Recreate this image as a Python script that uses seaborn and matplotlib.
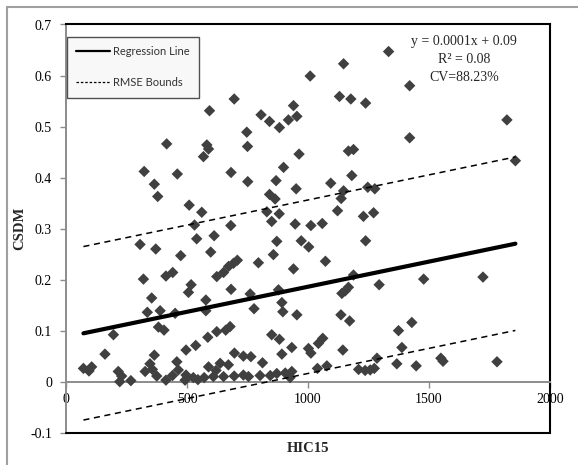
import numpy as np
import pandas as pd
import matplotlib
matplotlib.use("Agg")
import matplotlib.pyplot as plt
from matplotlib.lines import Line2D
import seaborn as sns

# Head impact criterion (HIC15) for each case
hic15 = [
    695, 593, 940, 806, 841, 882, 919, 954, 747, 416, 582, 589, 568, 750, 963,
    323, 460, 682, 899, 365, 751, 868, 951, 379, 841, 864, 509, 561, 830, 881,
    850, 681, 531, 947, 1012, 540, 612, 306, 371, 871, 972, 1003, 474, 598, 857,
    1333, 1147, 1009, 1420, 1130, 1177, 1238, 1822, 1420, 1167, 1188, 1857, 1181,
    1094, 1147, 1137, 1247, 1276, 1122, 1229, 1271, 1059, 1238, 1072,
    623, 651, 672, 692, 708, 795, 940, 682, 320, 413, 441, 517, 506, 354, 578,
    578, 336, 389, 451, 382, 405, 196, 660, 623, 678, 761, 878, 892, 777, 896,
    954, 1188, 1167, 1154, 1140, 1294, 1136, 1172, 1478, 1723, 1429, 1374,
    586, 536, 496, 161, 696, 365, 72, 106, 95, 216, 230, 222, 268, 327, 347,
    357, 375, 413, 458, 464, 496, 526, 492, 571, 589, 609, 637, 671, 651, 695,
    850, 882, 933, 892, 1002, 1012, 1043, 1061, 1144, 1388, 1367, 1285, 733, 764,
    812, 733, 754, 802, 844, 871, 906, 933, 926, 1039, 1078, 1209, 1236, 1257,
    1274, 1447, 1549, 1558, 1781, 545, 620, 440,
]

# Cumulative strain damage measure for each case
csdm = [
    0.554, 0.531, 0.541, 0.523, 0.510, 0.498, 0.513, 0.520, 0.489, 0.466, 0.464,
    0.456, 0.441, 0.461, 0.446, 0.412, 0.407, 0.410, 0.420, 0.387, 0.392, 0.394,
    0.378, 0.363, 0.367, 0.358, 0.346, 0.332, 0.333, 0.329, 0.314, 0.306, 0.307,
    0.309, 0.306, 0.280, 0.286, 0.269, 0.260, 0.275, 0.276, 0.264, 0.247, 0.254,
    0.249,
    0.647, 0.623, 0.599, 0.580, 0.559, 0.554, 0.546, 0.513, 0.478, 0.452, 0.455,
    0.433, 0.404, 0.389, 0.374, 0.359, 0.381, 0.378, 0.335, 0.324, 0.331, 0.310,
    0.276, 0.236,
    0.206, 0.214, 0.226, 0.232, 0.238, 0.233, 0.221, 0.181, 0.201, 0.207, 0.214,
    0.190, 0.175, 0.164, 0.160, 0.139, 0.136, 0.139, 0.134, 0.107, 0.101, 0.092,
    0.101, 0.098, 0.108, 0.172, 0.180, 0.155, 0.143, 0.137, 0.131, 0.209, 0.185,
    0.178, 0.173, 0.190, 0.131, 0.119, 0.201, 0.205, 0.116, 0.100,
    0.087, 0.071, 0.062, 0.054, 0.056, 0.052, 0.026, 0.029, 0.021, 0.020, 0.011,
    0.000, 0.002, 0.020, 0.035, 0.024, 0.011, 0.003, 0.039, 0.023, 0.013, 0.008,
    0.003, 0.008, 0.029, 0.010, 0.036, 0.033, 0.010, 0.011, 0.092, 0.083, 0.067,
    0.054, 0.065, 0.056, 0.075, 0.085, 0.062, 0.067, 0.035, 0.046, 0.050, 0.049,
    0.037, 0.013, 0.010, 0.012, 0.012, 0.016, 0.017, 0.020, 0.008, 0.026, 0.031,
    0.024, 0.022, 0.023, 0.026, 0.031, 0.046, 0.040, 0.039, 0.004, 0.022, 0.012,
]

# Linear fit and its error statistics
slope = 0.0000984
intercept = 0.0877
rmse = 0.17
r_squared = 0.08
cv_percent = 88.23

x_ticks = [0, 500, 1000, 1500, 2000]
y_ticks = [-0.1, 0.0, 0.1, 0.2, 0.3, 0.4, 0.5, 0.6, 0.7]
y_tick_labels = ["-0.1", "0", "0.1", "0.2", "0.3", "0.4", "0.5", "0.6", "0.7"]
legend_labels = ["Regression Line", "RMSE Bounds"]

df = pd.DataFrame({"HIC15": hic15, "CSDM": csdm})

x_fit = np.array([min(hic15), max(hic15)], dtype=float)
fit = pd.DataFrame({
    "HIC15": x_fit,
    "fit": slope * x_fit + intercept,
    "upper": slope * x_fit + intercept + rmse,
    "lower": slope * x_fit + intercept - rmse,
})

sns.set_theme(style="ticks")
plt.rcParams["font.family"] = ["Liberation Serif", "DejaVu Serif"]

W, H = 578, 465
fig = plt.figure(figsize=(W / 100, H / 100), dpi=100)
fig.patch.set_facecolor("white")
ax_left, ax_right, ax_top, ax_bottom = 66, 550, 24.5, 432.7
ax = fig.add_axes([ax_left / W, 1 - ax_bottom / H,
                   (ax_right - ax_left) / W, (ax_bottom - ax_top) / H])

sns.scatterplot(data=df, x="HIC15", y="CSDM", marker="D", s=34,
                color="#404040", edgecolor="none", linewidth=0,
                ax=ax, zorder=3, legend=False)

sns.lineplot(data=fit, x="HIC15", y="fit", color="black", lw=3.0,
             solid_capstyle="round", ax=ax, zorder=4)
for col in ["upper", "lower"]:
    sns.lineplot(data=fit, x="HIC15", y=col, color="black", lw=1.1,
                 linestyle=(0, (4, 3)), ax=ax, zorder=4)

ax.set_xlim(0, 2000)
ax.set_ylim(-0.1, 0.7)
ax.set_xticks(x_ticks)
ax.set_yticks(y_ticks)
ax.set_yticklabels(y_tick_labels)

# Axis lines: grey value axes, black frame around the plot area
grey = "#8c8c8c"
ax.spines["left"].set_color(grey)
ax.spines["left"].set_linewidth(1.4)
ax.spines["bottom"].set_position(("data", 0))
ax.spines["bottom"].set_color(grey)
ax.spines["bottom"].set_linewidth(1.4)
for side in ["top", "right"]:
    ax.spines[side].set_visible(True)
    ax.spines[side].set_color("black")
    ax.spines[side].set_linewidth(1.5)
ax.axhline(-0.1, color="black", lw=1.5, clip_on=False, zorder=2.6)

ax.tick_params(axis="both", direction="out", length=4, width=1.0,
               color=grey, labelsize=10, labelcolor="black")
ax.tick_params(axis="x", bottom=True, top=False, pad=4.5)
ax.tick_params(axis="y", left=True, right=False, pad=6)

ax.set_xlabel("HIC15", fontsize=10.5, fontweight="bold", va="center")
ax.xaxis.set_label_coords(0.5, (ax_bottom - 448) / (ax_bottom - ax_top))
ax.set_ylabel("CSDM", fontsize=10.5, fontweight="bold", va="center")
ax.yaxis.set_label_coords((20 - ax_left) / (ax_right - ax_left), 0.5)

# Fit equation and statistics
ax.text(1646, 0.667, f"y = {slope:.4f}x + {intercept:.2f}", fontsize=10,
        ha="center", va="center")
ax.text(1646, 0.632, f"R² = {r_squared:.2f}", fontsize=10,
        ha="center", va="center")
ax.text(1646, 0.597, f"CV={cv_percent:.2f}%", fontsize=10,
        ha="center", va="center")

handles = [
    Line2D([], [], color="black", lw=1.6),
    Line2D([], [], color="black", lw=0.9, linestyle=(0, (2, 1.5))),
]
leg = ax.legend(handles, legend_labels, loc="upper left",
                bbox_to_anchor=(0.0015, (ax_bottom - 36.7) / (ax_bottom - ax_top)),
                borderaxespad=0, frameon=True, fancybox=False,
                edgecolor="#505050", facecolor="#f8f8f8", framealpha=1,
                prop={"family": "Lato", "size": 8}, labelcolor="#333333",
                handlelength=3.0, handletextpad=0.3, labelspacing=1.8,
                borderpad=0.85)
leg.get_frame().set_linewidth(1.0)

# Outer chart border
fig.add_artist(Line2D([7 / W, 1.0], [1 - 7 / H, 1 - 7 / H],
                      color="#a0a0a0", lw=1.5, transform=fig.transFigure))
fig.add_artist(Line2D([7 / W, 7 / W], [0.0, 1 - 7 / H],
                      color="#a0a0a0", lw=1.5, transform=fig.transFigure))

fig.savefig("out.png", dpi=100)
